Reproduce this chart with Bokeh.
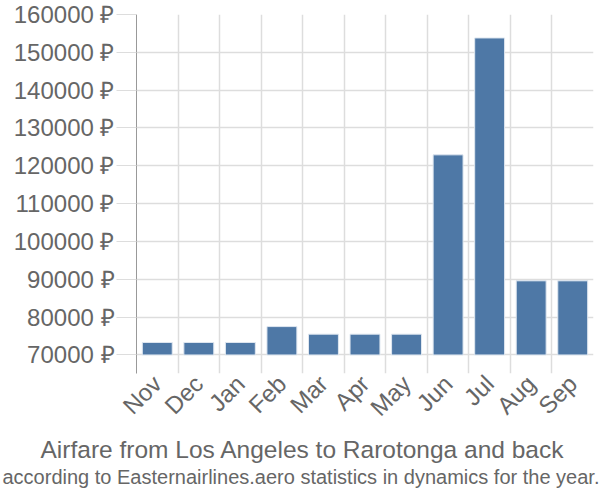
from bokeh.plotting import figure
from bokeh.models import FixedTicker, PrintfTickFormatter, Title, Range1d
from bokeh.embed import file_html
from bokeh.resources import INLINE
import math

months = ["Nov", "Dec", "Jan", "Feb", "Mar", "Apr", "May", "Jun", "Jul", "Aug", "Sep"]
prices = [73300, 73300, 73300, 77500, 75500, 75500, 75500, 122900, 153800, 89600, 89600]
y_ticks = [70000, 80000, 90000, 100000, 110000, 120000, 130000, 140000, 150000, 160000]
title_text = "Airfare from Los Angeles to Rarotonga and back"
subtitle_text = "according to Easternairlines.aero statistics in dynamics for the year."

centers = [i + 0.5 for i in range(len(months))]
bounds = list(range(len(months) + 1))

p = figure(width=600, height=500, output_backend="svg", toolbar_location=None,
           x_range=Range1d(0, len(months)), y_range=Range1d(65100, 160000),
           min_border_left=136, min_border_right=7, min_border_top=14, min_border_bottom=127)
p.outline_line_color = None
p.background_fill_color = "white"

p.vbar(x=centers, top=prices, bottom=y_ticks[0], width=0.72,
       fill_color="#4e78a6", line_color="#dfe7f0", line_width=1)

grid_color = "#dddddd"
text_color = "#666666"
font = "Liberation Sans"

p.yaxis.ticker = FixedTicker(ticks=y_ticks)
p.yaxis.formatter = PrintfTickFormatter(format="%d ₽")
p.yaxis.major_tick_out = 20
p.yaxis.major_tick_in = 0
p.yaxis.major_tick_line_color = grid_color
p.yaxis.minor_tick_line_color = None
p.yaxis.axis_line_color = "#999999"
p.yaxis.major_label_text_color = text_color
p.yaxis.major_label_text_font = font
p.yaxis.major_label_text_font_size = "24px"
p.yaxis.major_label_standoff = 2
p.ygrid.ticker = FixedTicker(ticks=y_ticks)
p.ygrid.grid_line_color = grid_color
p.ygrid.grid_line_width = 1.5

p.xaxis.ticker = FixedTicker(ticks=centers)
p.xaxis.major_label_overrides = {c: m for c, m in zip(centers, months)}
p.xaxis.major_label_orientation = math.pi / 4
p.xaxis.major_tick_line_color = None
p.xaxis.minor_tick_line_color = None
p.xaxis.axis_line_color = None
p.xaxis.major_label_text_color = text_color
p.xaxis.major_label_text_font = font
p.xaxis.major_label_text_font_size = "24px"
p.xaxis.major_label_standoff = 0
p.xgrid.ticker = FixedTicker(ticks=bounds)
p.xgrid.grid_line_color = grid_color
p.xgrid.grid_line_width = 1.5

p.add_layout(Title(text=title_text, align="left", offset=-96, standoff=1,
                   text_color=text_color, text_font=font, text_font_size="24.5px",
                   text_font_style="normal"), "below")
p.add_layout(Title(text=subtitle_text, align="left", offset=-134, standoff=0,
                   text_color=text_color, text_font=font, text_font_size="20px",
                   text_font_style="normal"), "below")

open("out.html", "w").write(file_html(p, INLINE))
